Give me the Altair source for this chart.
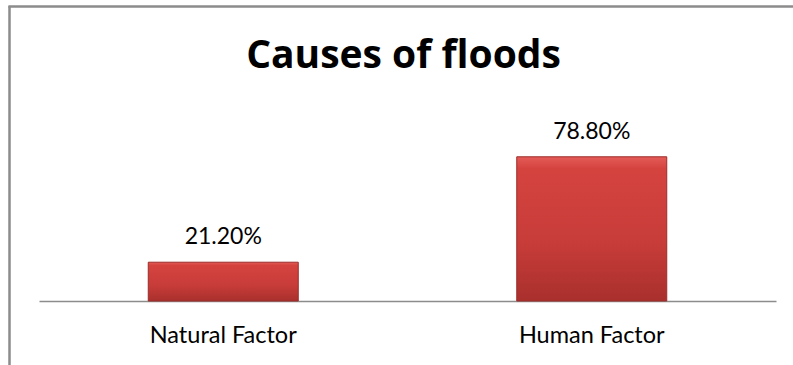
import altair as alt
import pandas as pd

categories = ["Natural Factor", "Human Factor"]
values = [21.2, 78.8]
title_text = "Causes of floods"

df = pd.DataFrame({"cause": categories, "pct": values})
df["label"] = [f"{v:.2f}%" for v in values]

FONT = "Lato"

base = alt.Chart(df)

bars = base.mark_bar(
    size=150,
    fill=alt.Gradient(
        gradient="linear",
        stops=[
            alt.GradientStop(color="#e45c58", offset=0),
            alt.GradientStop(color="#d5433f", offset=0.08),
            alt.GradientStop(color="#c73c39", offset=0.6),
            alt.GradientStop(color="#a9302d", offset=1),
        ],
        x1=0, x2=0, y1=0, y2=1,
    ),
    stroke="#9b2d2a",
    strokeWidth=1,
).encode(
    x=alt.X(
        "cause:N",
        sort=categories,
        title=None,
        scale=alt.Scale(paddingInner=0, paddingOuter=0),
        axis=alt.Axis(
            labelAngle=0,
            labelFont=FONT,
            labelFontSize=23.5,
            labelColor="#000000",
            labelBaseline="alphabetic",
            labelPadding=41,
            ticks=False,
            tickSize=0,
            domainColor="#8c8c8c",
            domainWidth=1.5,
            grid=False,
        ),
    ),
    y=alt.Y("pct:Q", scale=alt.Scale(domain=[0, 100]), axis=None),
)

labels = base.mark_text(
    font=FONT,
    fontSize=23,
    color="#000000",
    baseline="alphabetic",
    dy=-18,
).encode(
    x=alt.X("cause:N", sort=categories),
    y=alt.Y("pct:Q"),
    text="label:N",
)

frame_left = base.mark_rule(color="#8c8c8c", strokeWidth=2).encode(
    x=alt.value(-29.5), y=alt.value(-111.5), y2=alt.value(260)
)
frame_top = base.mark_rule(color="#8c8c8c", strokeWidth=2).encode(
    x=alt.value(-30.5), x2=alt.value(800), y=alt.value(-111.5)
)

chart = (
    alt.layer(frame_left, frame_top, bars, labels)
    .properties(
        width=737,
        height=183,
        title=alt.TitleParams(
            title_text,
            font="Open Sans",
            fontSize=39,
            fontWeight="bold",
            color="#000000",
            anchor="middle",
            baseline="alphabetic",
            offset=-101.5,
            dx=-4,
        ),
        autosize=alt.AutoSizeParams(type="none"),
        padding={"left": 39, "top": 118, "right": 17, "bottom": 64},
        background="#ffffff",
    )
    .configure_view(stroke=None)
)

chart.save("out.html", embed_options={"renderer": "svg", "actions": False})
